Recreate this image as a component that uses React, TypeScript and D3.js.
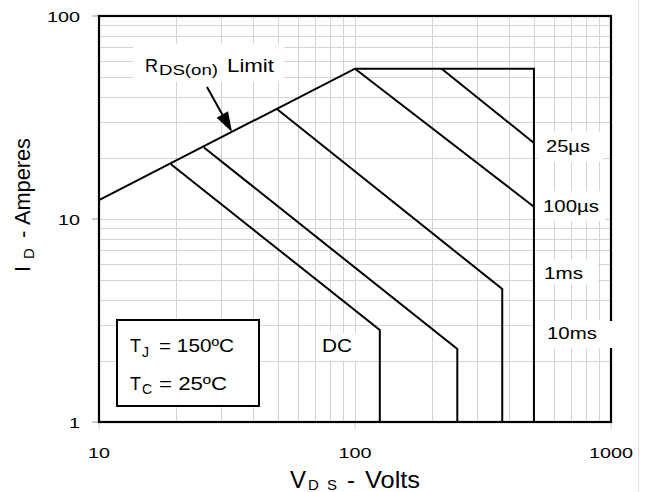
import React from "react";
import * as d3 from "d3";

// ---- data ----
const xTicks = [10, 100, 1000];
const yTicks = [1, 10, 100];
const xTickLabels = ["10", "100", "1000"];
const yTickLabels = ["1", "10", "100"];

// outer envelope: RDS(on) limit -> plateau -> max VDS
const limitV = [10, 100, 500, 500];
const limitI = [12.4, 55, 55, 1];
const us25V = [218, 500];
const us25I = [55, 23.7];
const us100V = [100, 500];
const us100I = [55, 11.5];
const ms1V = [49.4, 376, 376];
const ms1I = [34.9, 4.52, 1];
const ms10V = [25.7, 251, 251];
const ms10I = [22.5, 2.29, 1];
const dcV = [19.1, 125, 125];
const dcI = [18.6, 2.84, 1];

const seriesList = [
  { v: limitV, i: limitI },
  { v: us25V, i: us25I },
  { v: us100V, i: us100I },
  { v: ms1V, i: ms1I },
  { v: ms10V, i: ms10I },
  { v: dcV, i: dcI },
];

const FONT = "'Liberation Sans', Arial, Helvetica, sans-serif";

export default function App() {
  const left = 99, right = 611, top = 16, bottom = 422;
  const x = d3.scaleLog().domain([10, 1000]).range([left, right]);
  const y = d3.scaleLog().domain([1, 100]).range([bottom, top]);

  const minorX: number[] = [];
  for (const d of [10, 100]) for (let k = 2; k <= 9; k++) minorX.push(d * k);
  minorX.push(100);
  const minorY: number[] = [];
  for (const d of [1, 10]) for (let k = 2; k <= 9; k++) minorY.push(d * k);
  minorY.push(10);

  const line = d3
    .line<[number, number]>()
    .x((d) => x(d[0]))
    .y((d) => y(d[1]));

  const gridColor = "#d4d4d4";

  // arrow geometry (annotation)
  const ax0 = 207, ay0 = 87, ax1 = 232, ay1 = 132;
  const ang = Math.atan2(ay1 - ay0, ax1 - ax0);
  const headLen = 20, headW = 6.5;
  const bx = ax1 - headLen * Math.cos(ang), by = ay1 - headLen * Math.sin(ang);
  const px = -Math.sin(ang) * headW, py = Math.cos(ang) * headW;

  return (
    <svg
      width={645}
      height={492}
      style={{ position: "absolute", left: 0, top: 0, background: "#fff" }}
      fontFamily={FONT}
    >
      <rect x={0} y={0} width={645} height={492} fill="#fff" />
      <line x1={638.5} x2={638.5} y1={0} y2={492} stroke="#e2e2e2" strokeWidth={1} />

      {/* grid */}
      <g stroke={gridColor} strokeWidth={1}>
        {minorX.map((v) => (
          <line key={"gx" + v} x1={Math.round(x(v)) + 0.5} x2={Math.round(x(v)) + 0.5} y1={top} y2={bottom} />
        ))}
        {minorY.map((v) => (
          <line key={"gy" + v} x1={left} x2={right} y1={Math.round(y(v)) + 0.5} y2={Math.round(y(v)) + 0.5} />
        ))}
      </g>

      {/* ticks */}
      <g stroke="#999" strokeWidth={1}>
        {yTicks.map((v) => (
          <line key={"ty" + v} x1={92} x2={left} y1={y(v)} y2={y(v)} />
        ))}
      </g>
      <g stroke="#ccc" strokeWidth={1}>
        {xTicks.map((v) => (
          <line key={"tx" + v} x1={x(v)} x2={x(v)} y1={bottom} y2={bottom + 7} />
        ))}
      </g>

      {/* label backgrounds */}
      <g fill="#fff">
        <rect x={133} y={44} width={151} height={38} />
        <rect x={316} y={333} width={50} height={28} />
        <rect x={538} y={132} width={65} height={30} />
        <rect x={536} y={191} width={69} height={30} />
        <rect x={535} y={260} width={63} height={24} />
        <rect x={533} y={320} width={82} height={28} />
      </g>

      {/* SOA lines */}
      <g fill="none" stroke="#000" strokeWidth={2} strokeLinejoin="miter">
        {seriesList.map((s, k) => (
          <path key={k} d={line(s.v.map((v, j) => [v, s.i[j]] as [number, number])) || ""} />
        ))}
      </g>

      {/* plot frame */}
      <rect x={left} y={top} width={right - left} height={bottom - top} fill="none" stroke="#000" strokeWidth={2.2} />
      {/* frame gap behind 10ms label */}
      <rect x={606} y={321} width={10} height={27} fill="#fff" />

      {/* arrow */}
      <line x1={ax0} y1={ay0} x2={bx} y2={by} stroke="#000" strokeWidth={2} />
      <polygon
        points={`${ax1},${ay1} ${bx + px},${by + py} ${bx - px},${by - py}`}
        fill="#000"
      />

      {/* axis tick labels */}
      <g fontSize={15} fill="#000">
        {yTicks.map((v, k) => (
          <text
            key={"yl" + v}
            x={80}
            y={y(v) + 5.5}
            textAnchor="end"
            textLength={yTickLabels[k].length * 11}
            lengthAdjust="spacingAndGlyphs"
          >
            {yTickLabels[k]}
          </text>
        ))}
        {xTicks.map((v, k) => (
          <text
            key={"xl" + v}
            x={x(v)}
            y={458}
            textAnchor="middle"
            textLength={xTickLabels[k].length * 11}
            lengthAdjust="spacingAndGlyphs"
          >
            {xTickLabels[k]}
          </text>
        ))}
      </g>

      {/* axis titles */}
      <g fill="#000">
        <text x={290} y={488} fontSize={24}>V</text>
        <text x={308} y={490} fontSize={15}>D</text>
        <text x={327} y={490} fontSize={15}>S</text>
        <text x={347} y={488} fontSize={24}>-</text>
        <text x={365} y={488} fontSize={24} textLength={55} lengthAdjust="spacingAndGlyphs">Volts</text>
      </g>
      <g transform="translate(30,272) rotate(-90)" fill="#000">
        <text x={0} y={0} fontSize={22}>I</text>
        <text x={13} y={4} fontSize={15}>D</text>
        <text x={34} y={0} fontSize={22}>-</text>
        <text x={47} y={0} fontSize={22} textLength={87} lengthAdjust="spacingAndGlyphs">Amperes</text>
      </g>

      {/* RDS label */}
      <g fill="#000">
        <text x={145} y={72} fontSize={18}>R</text>
        <text x={159} y={75} fontSize={14} textLength={59} lengthAdjust="spacingAndGlyphs">DS(on)</text>
        <text x={227} y={72} fontSize={18} textLength={47} lengthAdjust="spacingAndGlyphs">Limit</text>
      </g>

      {/* pulse labels */}
      <g fontSize={17} fill="#000">
        <text x={546} y={152} textLength={44} lengthAdjust="spacingAndGlyphs">25µs</text>
        <text x={543} y={212} textLength={56} lengthAdjust="spacingAndGlyphs">100µs</text>
        <text x={544} y={279} textLength={39} lengthAdjust="spacingAndGlyphs">1ms</text>
        <text x={547} y={339} textLength={50} lengthAdjust="spacingAndGlyphs">10ms</text>
        <text x={322} y={352} fontSize={18} textLength={30} lengthAdjust="spacingAndGlyphs">DC</text>
      </g>

      {/* conditions box */}
      <rect x={117} y={320} width={142} height={86} fill="#fff" stroke="#000" strokeWidth={2} />
      <g fill="#000">
        <text x={130} y={352} fontSize={18}>T</text>
        <text x={142} y={357} fontSize={14}>J</text>
        <text x={159} y={352} fontSize={18} textLength={75} lengthAdjust="spacingAndGlyphs">= 150ºC</text>
        <text x={130} y={390} fontSize={18}>T</text>
        <text x={142} y={394} fontSize={14}>C</text>
        <text x={159} y={390} fontSize={18} textLength={68} lengthAdjust="spacingAndGlyphs">= 25ºC</text>
      </g>
    </svg>
  );
}
